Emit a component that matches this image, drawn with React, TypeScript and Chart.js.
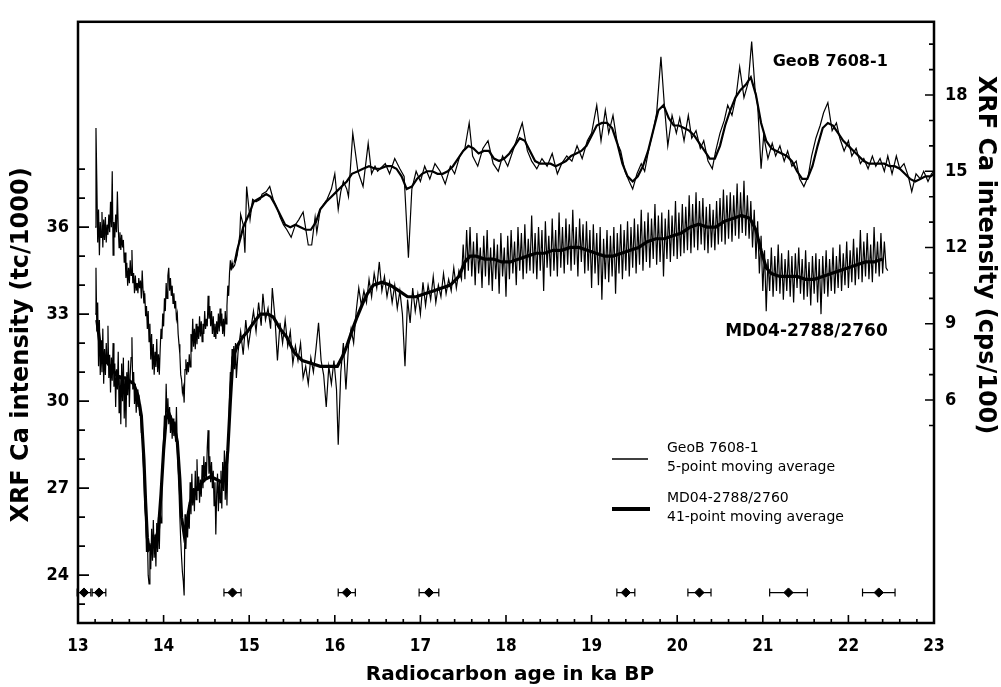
import { useEffect, useRef } from "react";
import { Chart, registerables } from "chart.js";

Chart.register(...registerables);

const FONT = '"DejaVu Sans", Verdana, sans-serif';
const COND = '"DejaVu Sans Condensed", "DejaVu Sans", sans-serif';

// ---- axis tick labels ----
const xTickLabels = [13, 14, 15, 16, 17, 18, 19, 20, 21, 22, 23];
const leftTickLabels = [24, 27, 30, 33, 36];
const rightTickLabels = [6, 9, 12, 15, 18];
const leftMinorRange = [23, 38];
const rightMinorRange = [5, 20];
const xMinorStep = 0.2;

// ---- GeoB 7608-1 raw (age ka, XRF Ca cps/100) ----
const geoRaw: [number, number][] = [
  [13.20, 12.8], [13.21, 16.7], [13.22, 14.6], [13.23, 12.2], [13.24, 13.5], [13.25, 11.7], [13.26, 13.0], [13.27, 12.4],
  [13.28, 13.4], [13.29, 12.0], [13.30, 13.1], [13.31, 12.3], [13.32, 13.2], [13.33, 12.2], [13.34, 12.9], [13.35, 12.5],
  [13.36, 13.3], [13.37, 12.6], [13.38, 13.8], [13.39, 12.8], [13.40, 15.0], [13.41, 11.7], [13.42, 13.0], [13.43, 12.4],
  [13.44, 13.3], [13.45, 12.6], [13.46, 14.2], [13.47, 12.8], [13.48, 12.0], [13.49, 12.6], [13.50, 11.9], [13.51, 12.5],
  [13.52, 12.0], [13.53, 12.3], [13.54, 11.4], [13.55, 11.8], [13.56, 10.8], [13.57, 11.4], [13.58, 10.5], [13.59, 11.2],
  [13.60, 10.6], [13.61, 11.5], [13.62, 10.9], [13.63, 11.9], [13.64, 10.6], [13.65, 11.0], [13.66, 10.2], [13.67, 10.9],
  [13.68, 10.3], [13.69, 10.6], [13.70, 10.2], [13.71, 10.8], [13.72, 10.4], [13.73, 10.7], [13.74, 10.0], [13.75, 11.1],
  [13.76, 10.3], [13.77, 9.8], [13.78, 10.2], [13.79, 9.3], [13.80, 9.7], [13.81, 8.8], [13.82, 9.5], [13.83, 8.3],
  [13.84, 9.0], [13.85, 7.6], [13.86, 8.6], [13.87, 7.2], [13.88, 8.2], [13.89, 7.0], [13.90, 7.9], [13.91, 7.3],
  [13.92, 8.4], [13.93, 7.1], [13.94, 7.8], [13.95, 7.0], [13.96, 8.0], [13.97, 8.8], [13.98, 8.4], [13.99, 9.4],
  [14.00, 8.9], [14.01, 10.0], [14.02, 9.5], [14.03, 10.6], [14.04, 10.0], [14.05, 10.9], [14.06, 11.2], [14.07, 10.3],
  [14.08, 10.8], [14.09, 10.1], [14.10, 10.5], [14.11, 9.8], [14.12, 10.2], [14.13, 9.6], [14.14, 9.9], [14.15, 9.2],
  [14.16, 9.4], [14.17, 8.6], [14.18, 8.2], [14.19, 7.8], [14.20, 7.0], [14.21, 6.8], [14.22, 6.3], [14.23, 6.5],
  [14.24, 5.9], [14.25, 7.2], [14.26, 7.6], [14.27, 7.0], [14.28, 7.5], [14.29, 7.1], [14.30, 7.8], [14.31, 7.3],
  [14.32, 8.6], [14.33, 7.9], [14.34, 9.2], [14.35, 8.1], [14.36, 8.8], [14.37, 8.0], [14.38, 9.0], [14.39, 8.2],
  [14.40, 8.9], [14.41, 8.4], [14.42, 9.3], [14.43, 8.5], [14.44, 9.1], [14.45, 8.3], [14.46, 9.0], [14.47, 8.6],
  [14.48, 9.5], [14.49, 8.8], [14.50, 9.2], [14.51, 8.9], [14.52, 10.1], [14.53, 9.2], [14.54, 9.7], [14.55, 8.9],
  [14.56, 9.5], [14.57, 8.6], [14.58, 9.3], [14.59, 8.5], [14.60, 9.0], [14.61, 8.4], [14.62, 9.1], [14.63, 8.6],
  [14.64, 9.4], [14.65, 8.7], [14.66, 9.6], [14.67, 8.9], [14.68, 9.4], [14.69, 8.6], [14.70, 9.2], [14.71, 8.5],
  [14.72, 9.5], [14.73, 9.0], [14.74, 9.7], [14.75, 10.5], [14.76, 10.1], [14.77, 11.0], [14.78, 11.5], [14.79, 11.1],
  [14.80, 11.4], [14.81, 11.2], [14.83, 11.3], [14.86, 11.7], [14.89, 12.5], [14.90, 13.3], [14.93, 12.9], [14.95, 11.8],
  [14.97, 14.4], [15.01, 13.1], [15.04, 13.9], [15.08, 13.8], [15.13, 13.9], [15.15, 14.1], [15.20, 14.2], [15.24, 14.4],
  [15.28, 13.9], [15.32, 13.6], [15.36, 13.2], [15.40, 12.9], [15.44, 12.7], [15.49, 12.4], [15.54, 12.9], [15.58, 13.1],
  [15.63, 13.4], [15.69, 12.1], [15.73, 12.1], [15.77, 13.2], [15.79, 12.6], [15.83, 13.5], [15.87, 13.7], [15.91, 13.9],
  [15.96, 14.3], [16.00, 14.9], [16.04, 13.5], [16.07, 14.2], [16.10, 14.6], [16.14, 14.3], [16.16, 14.0], [16.21, 16.5],
  [16.27, 15.0], [16.33, 14.4], [16.39, 16.1], [16.43, 14.9], [16.47, 15.2], [16.50, 15.0], [16.59, 15.3], [16.64, 14.9],
  [16.70, 15.5], [16.76, 15.1], [16.81, 14.8], [16.86, 11.6], [16.90, 14.3], [16.95, 15.0], [17.00, 14.6], [17.05, 15.2],
  [17.11, 14.7], [17.17, 15.3], [17.23, 15.0], [17.29, 14.5], [17.35, 15.2], [17.40, 14.9], [17.46, 15.6], [17.52, 15.9],
  [17.57, 16.9], [17.61, 15.6], [17.67, 15.2], [17.73, 15.9], [17.79, 16.2], [17.85, 15.3], [17.91, 15.0], [17.96, 15.6],
  [18.02, 15.2], [18.08, 15.8], [18.14, 16.4], [18.19, 16.9], [18.25, 15.8], [18.30, 15.4], [18.36, 15.1], [18.42, 15.5],
  [18.48, 15.2], [18.54, 15.7], [18.60, 14.9], [18.65, 15.3], [18.71, 15.6], [18.77, 15.4], [18.83, 16.0], [18.89, 15.5],
  [18.95, 16.2], [19.00, 16.5], [19.06, 17.6], [19.11, 16.2], [19.16, 17.4], [19.20, 16.5], [19.25, 17.2], [19.30, 16.1],
  [19.34, 15.8], [19.39, 15.0], [19.44, 14.6], [19.48, 14.3], [19.53, 14.9], [19.58, 15.3], [19.62, 15.0], [19.67, 15.9],
  [19.72, 16.6], [19.76, 17.3], [19.81, 19.5], [19.85, 17.6], [19.89, 16.0], [19.94, 17.2], [19.99, 16.5], [20.03, 17.1],
  [20.08, 16.2], [20.13, 17.2], [20.17, 16.3], [20.22, 16.6], [20.27, 15.9], [20.31, 16.2], [20.36, 15.4], [20.41, 15.1],
  [20.45, 15.8], [20.50, 16.5], [20.55, 17.0], [20.59, 17.6], [20.64, 17.2], [20.69, 18.0], [20.73, 19.1], [20.78, 17.9],
  [20.83, 18.5], [20.87, 20.1], [20.91, 18.2], [20.94, 17.6], [20.98, 15.1], [21.01, 16.4], [21.06, 15.5], [21.11, 16.1],
  [21.15, 15.6], [21.20, 16.0], [21.25, 15.4], [21.29, 15.8], [21.34, 15.2], [21.39, 15.4], [21.43, 14.7], [21.48, 14.4],
  [21.53, 14.8], [21.57, 15.6], [21.62, 16.3], [21.67, 16.8], [21.71, 17.3], [21.76, 17.7], [21.81, 16.6], [21.86, 16.9],
  [21.90, 16.3], [21.95, 15.8], [22.00, 16.2], [22.04, 15.6], [22.09, 15.9], [22.14, 15.3], [22.18, 15.5], [22.23, 15.1],
  [22.28, 15.6], [22.32, 15.2], [22.37, 15.5], [22.42, 15.0], [22.46, 15.6], [22.51, 14.9], [22.56, 15.6], [22.60, 15.1],
  [22.65, 15.3], [22.70, 14.8], [22.74, 14.2], [22.79, 14.9], [22.84, 14.7], [22.88, 15.0], [22.93, 14.6], [22.97, 14.9],
  [23.00, 15.0],
];

// ---- GeoB 7608-1 5-point moving average ----
const geoAvg: [number, number][] = [
  [14.83, 11.4], [14.86, 11.9], [14.90, 12.4], [14.93, 12.8], [14.97, 13.1], [15.01, 13.4], [15.05, 13.8], [15.10, 13.9],
  [15.15, 14.0], [15.20, 14.1], [15.25, 14.0], [15.30, 13.7], [15.36, 13.3], [15.42, 12.9], [15.48, 12.8], [15.54, 12.9],
  [15.60, 12.8], [15.66, 12.7], [15.72, 12.7], [15.78, 13.0], [15.83, 13.5], [15.90, 13.8], [15.96, 14.0], [16.02, 14.2],
  [16.08, 14.4], [16.14, 14.6], [16.20, 14.9], [16.27, 15.0], [16.33, 15.1], [16.40, 15.2], [16.47, 15.1], [16.53, 15.1],
  [16.60, 15.2], [16.66, 15.2], [16.72, 15.1], [16.78, 14.8], [16.84, 14.3], [16.90, 14.4], [16.96, 14.7], [17.02, 14.9],
  [17.08, 15.0], [17.14, 15.0], [17.20, 14.9], [17.26, 14.9], [17.32, 15.0], [17.38, 15.2], [17.44, 15.5], [17.50, 15.8],
  [17.56, 16.0], [17.62, 15.9], [17.68, 15.7], [17.74, 15.8], [17.80, 15.8], [17.86, 15.5], [17.92, 15.4], [17.98, 15.5],
  [18.04, 15.7], [18.10, 16.0], [18.16, 16.3], [18.22, 16.2], [18.28, 15.8], [18.34, 15.4], [18.40, 15.3], [18.46, 15.3],
  [18.52, 15.3], [18.58, 15.2], [18.64, 15.3], [18.70, 15.4], [18.76, 15.6], [18.82, 15.7], [18.88, 15.8], [18.94, 16.0],
  [19.00, 16.4], [19.06, 16.8], [19.12, 16.9], [19.18, 16.9], [19.24, 16.7], [19.30, 16.1], [19.36, 15.3], [19.42, 14.8],
  [19.48, 14.6], [19.54, 14.8], [19.60, 15.2], [19.66, 15.8], [19.72, 16.6], [19.78, 17.4], [19.84, 17.6], [19.90, 17.1],
  [19.96, 16.8], [20.02, 16.8], [20.08, 16.7], [20.14, 16.6], [20.20, 16.4], [20.26, 16.1], [20.32, 15.8], [20.38, 15.5],
  [20.44, 15.5], [20.50, 16.0], [20.56, 16.8], [20.62, 17.4], [20.68, 17.9], [20.74, 18.2], [20.80, 18.4], [20.86, 18.7],
  [20.92, 18.0], [20.98, 16.9], [21.04, 16.2], [21.10, 15.9], [21.16, 15.8], [21.22, 15.7], [21.28, 15.6], [21.34, 15.4],
  [21.40, 15.0], [21.46, 14.7], [21.52, 14.7], [21.58, 15.2], [21.64, 16.0], [21.70, 16.7], [21.76, 16.9], [21.82, 16.8],
  [21.88, 16.5], [21.94, 16.2], [22.00, 16.0], [22.06, 15.8], [22.12, 15.6], [22.18, 15.4], [22.24, 15.3], [22.30, 15.3],
  [22.36, 15.3], [22.42, 15.3], [22.48, 15.2], [22.54, 15.2], [22.60, 15.1], [22.66, 14.9], [22.72, 14.7], [22.78, 14.6],
  [22.84, 14.7], [22.90, 14.8], [22.96, 14.8], [23.00, 14.9],
];

// ---- MD04-2788/2760 raw (age ka, XRF Ca tc/1000) ----
const mdRaw: [number, number][] = [
  [13.20, 33.0], [13.21, 34.6], [13.22, 32.4], [13.23, 33.4], [13.24, 31.2], [13.25, 32.8], [13.26, 30.9], [13.27, 32.1],
  [13.28, 31.0], [13.29, 32.5], [13.30, 30.6], [13.31, 31.8], [13.32, 30.9], [13.33, 32.0], [13.34, 31.3], [13.35, 32.6],
  [13.36, 30.8], [13.37, 31.6], [13.38, 30.3], [13.39, 31.5], [13.40, 30.7], [13.41, 32.0], [13.42, 30.5], [13.43, 31.3],
  [13.44, 29.8], [13.45, 31.1], [13.46, 30.4], [13.47, 31.7], [13.48, 29.6], [13.49, 30.9], [13.50, 29.2], [13.51, 31.3],
  [13.52, 30.0], [13.53, 31.5], [13.54, 29.4], [13.55, 30.8], [13.56, 29.1], [13.57, 31.0], [13.58, 30.2], [13.59, 31.4],
  [13.60, 29.8], [13.61, 30.9], [13.62, 31.5], [13.63, 32.2], [13.64, 30.4], [13.65, 31.0], [13.66, 29.9], [13.67, 30.6],
  [13.68, 29.6], [13.69, 30.4], [13.70, 29.8], [13.71, 30.2], [13.72, 29.5], [13.73, 29.9], [13.74, 28.9], [13.75, 29.3],
  [13.76, 28.0], [13.77, 27.5], [13.78, 26.4], [13.79, 26.0], [13.80, 24.8], [13.81, 25.4], [13.82, 24.0], [13.83, 23.7],
  [13.84, 25.1], [13.85, 24.2], [13.86, 25.6], [13.87, 24.5], [13.88, 25.9], [13.89, 24.6], [13.90, 25.4], [13.91, 24.3],
  [13.92, 25.8], [13.93, 24.8], [13.94, 26.0], [13.95, 24.9], [13.96, 26.2], [13.97, 25.8], [13.98, 27.4], [13.99, 28.0],
  [14.00, 28.7], [14.01, 29.5], [14.02, 29.1], [14.03, 30.6], [14.04, 29.4], [14.05, 30.1], [14.06, 29.2], [14.07, 29.8],
  [14.08, 28.9], [14.09, 29.5], [14.10, 28.7], [14.11, 29.4], [14.12, 28.8], [14.13, 29.3], [14.14, 28.6], [14.15, 29.8],
  [14.16, 28.4], [14.17, 27.6], [14.18, 26.9], [14.19, 26.0], [14.20, 25.2], [14.21, 24.6], [14.22, 24.1], [14.23, 23.8],
  [14.24, 23.3], [14.25, 26.1], [14.26, 24.9], [14.27, 25.8], [14.28, 25.3], [14.29, 26.2], [14.30, 25.6], [14.31, 27.2],
  [14.32, 26.1], [14.33, 27.5], [14.34, 26.4], [14.35, 27.0], [14.36, 26.2], [14.37, 27.6], [14.38, 26.6], [14.39, 28.0],
  [14.40, 26.9], [14.41, 27.4], [14.42, 26.5], [14.43, 27.3], [14.44, 26.7], [14.45, 27.8], [14.46, 27.0], [14.47, 28.1],
  [14.48, 27.2], [14.49, 27.9], [14.50, 27.3], [14.51, 28.4], [14.52, 29.0], [14.53, 27.5], [14.54, 28.1], [14.55, 27.2],
  [14.56, 27.9], [14.57, 27.0], [14.58, 27.6], [14.59, 26.4], [14.60, 27.2], [14.61, 25.4], [14.62, 26.8], [14.63, 27.5],
  [14.64, 26.2], [14.65, 27.3], [14.66, 26.5], [14.67, 27.6], [14.68, 26.3], [14.69, 27.9], [14.70, 26.9], [14.71, 28.3],
  [14.72, 26.6], [14.73, 27.7], [14.74, 26.4], [14.75, 27.8], [14.76, 28.9], [14.77, 30.2], [14.78, 31.0], [14.79, 30.4],
  [14.80, 31.8], [14.81, 31.2], [14.82, 31.9], [14.83, 31.1], [14.84, 32.0], [14.85, 30.8], [14.87, 31.7], [14.90, 32.4],
  [14.93, 31.6], [14.96, 32.8], [14.99, 31.9], [15.02, 32.5], [15.05, 33.1], [15.08, 32.4], [15.11, 33.4], [15.14, 32.6],
  [15.16, 33.7], [15.19, 32.8], [15.22, 33.2], [15.25, 32.5], [15.27, 33.9], [15.30, 32.9], [15.33, 31.4], [15.36, 32.7],
  [15.39, 32.0], [15.42, 32.8], [15.45, 31.9], [15.48, 32.4], [15.51, 31.3], [15.54, 31.9], [15.57, 31.4], [15.60, 32.0],
  [15.63, 30.8], [15.66, 31.2], [15.69, 30.6], [15.72, 31.5], [15.75, 31.0], [15.78, 31.8], [15.81, 32.7], [15.84, 31.4],
  [15.87, 30.9], [15.90, 29.8], [15.93, 31.2], [15.96, 30.6], [15.99, 31.4], [16.02, 30.4], [16.04, 28.5], [16.07, 31.0],
  [16.10, 32.0], [16.13, 30.4], [16.16, 31.9], [16.19, 32.5], [16.22, 32.0], [16.25, 33.1], [16.28, 33.9], [16.31, 33.3],
  [16.34, 33.8], [16.37, 33.4], [16.40, 34.2], [16.43, 33.6], [16.46, 34.4], [16.49, 33.9], [16.52, 34.8], [16.55, 33.8],
  [16.58, 34.3], [16.61, 33.6], [16.64, 34.1], [16.67, 33.4], [16.70, 34.0], [16.73, 33.2], [16.76, 33.8], [16.79, 33.0],
  [16.82, 31.2], [16.85, 33.5], [16.88, 32.7], [16.91, 33.9], [16.94, 33.1], [16.97, 33.7], [17.00, 33.0], [17.03, 34.1],
  [17.06, 33.3], [17.09, 34.0], [17.12, 33.5], [17.15, 34.3], [17.18, 33.4], [17.21, 34.0], [17.24, 33.6], [17.27, 34.4],
  [17.30, 33.7], [17.33, 34.2], [17.36, 33.8], [17.39, 34.6], [17.42, 33.9], [17.45, 34.5], [17.48, 34.2], [17.50, 35.4],
  [17.52, 34.2], [17.54, 35.9], [17.56, 34.5], [17.58, 36.0], [17.60, 34.3], [17.62, 35.5], [17.64, 34.0], [17.66, 35.8],
  [17.68, 34.4], [17.70, 35.3], [17.72, 33.9], [17.74, 35.7], [17.76, 34.3], [17.78, 35.9], [17.80, 34.0], [17.82, 35.3],
  [17.84, 33.8], [17.86, 35.6], [17.88, 34.2], [17.90, 35.4], [17.92, 33.7], [17.94, 35.8], [17.96, 34.3], [17.98, 35.3],
  [18.00, 33.6], [18.02, 35.7], [18.04, 34.2], [18.06, 35.9], [18.08, 34.4], [18.10, 35.5], [18.12, 34.0], [18.14, 36.0],
  [18.16, 34.5], [18.18, 35.8], [18.20, 34.2], [18.22, 36.1], [18.24, 34.4], [18.26, 35.6], [18.28, 34.5], [18.30, 36.4],
  [18.32, 34.4], [18.34, 35.8], [18.36, 34.2], [18.38, 36.0], [18.40, 34.5], [18.42, 35.9], [18.44, 33.8], [18.46, 36.2],
  [18.48, 34.6], [18.50, 35.7], [18.52, 34.3], [18.54, 36.3], [18.56, 34.5], [18.58, 35.9], [18.60, 34.3], [18.62, 36.5],
  [18.64, 34.6], [18.66, 36.0], [18.68, 34.4], [18.70, 36.3], [18.72, 34.7], [18.74, 36.1], [18.76, 34.5], [18.78, 36.6],
  [18.80, 34.7], [18.82, 36.0], [18.84, 34.3], [18.86, 36.3], [18.88, 34.8], [18.90, 36.1], [18.92, 34.4], [18.94, 36.2],
  [18.96, 34.5], [18.98, 35.9], [19.00, 33.9], [19.02, 36.1], [19.04, 34.4], [19.06, 35.8], [19.08, 34.0], [19.10, 36.0],
  [19.12, 33.5], [19.14, 35.6], [19.16, 34.2], [19.18, 35.9], [19.20, 34.1], [19.22, 35.7], [19.24, 34.3], [19.26, 36.0],
  [19.28, 33.7], [19.30, 35.8], [19.32, 34.4], [19.34, 36.1], [19.36, 34.2], [19.38, 35.9], [19.40, 34.5], [19.42, 36.2],
  [19.44, 34.3], [19.46, 36.0], [19.48, 34.6], [19.50, 36.3], [19.52, 34.4], [19.54, 36.1], [19.56, 34.7], [19.58, 36.6],
  [19.60, 34.5], [19.62, 36.2], [19.64, 34.8], [19.66, 36.5], [19.68, 34.6], [19.70, 36.3], [19.72, 34.9], [19.74, 36.8],
  [19.76, 34.7], [19.78, 36.4], [19.80, 34.8], [19.82, 36.5], [19.84, 34.3], [19.86, 36.3], [19.88, 34.9], [19.90, 36.6],
  [19.92, 34.8], [19.94, 36.4], [19.96, 35.0], [19.98, 36.9], [20.00, 34.9], [20.02, 36.5], [20.04, 35.0], [20.06, 36.8],
  [20.08, 35.1], [20.10, 36.7], [20.12, 35.2], [20.14, 37.1], [20.16, 35.1], [20.18, 36.8], [20.20, 35.3], [20.22, 37.2],
  [20.24, 35.2], [20.26, 36.9], [20.28, 35.4], [20.30, 37.0], [20.32, 35.2], [20.34, 36.7], [20.36, 35.1], [20.38, 36.8],
  [20.40, 35.3], [20.42, 36.6], [20.44, 35.2], [20.46, 36.9], [20.48, 35.4], [20.50, 37.0], [20.52, 35.5], [20.54, 37.3],
  [20.56, 35.4], [20.58, 37.1], [20.60, 35.6], [20.62, 37.2], [20.64, 35.5], [20.66, 37.1], [20.68, 35.7], [20.70, 37.5],
  [20.72, 35.6], [20.74, 37.2], [20.76, 35.8], [20.78, 37.6], [20.80, 35.7], [20.82, 37.1], [20.84, 35.6], [20.86, 36.9],
  [20.88, 35.3], [20.90, 36.6], [20.92, 34.9], [20.94, 36.2], [20.96, 34.4], [20.98, 35.7], [21.00, 33.8], [21.02, 35.2],
  [21.04, 33.1], [21.06, 34.9], [21.08, 33.8], [21.10, 35.3], [21.12, 33.6], [21.14, 35.0], [21.16, 33.8], [21.18, 35.4],
  [21.20, 33.7], [21.22, 35.1], [21.24, 33.5], [21.26, 34.9], [21.28, 33.8], [21.30, 35.2], [21.32, 33.6], [21.34, 35.0],
  [21.36, 33.4], [21.38, 35.1], [21.40, 33.9], [21.42, 35.3], [21.44, 33.7], [21.46, 34.9], [21.48, 33.5], [21.50, 35.2],
  [21.52, 33.6], [21.54, 34.8], [21.56, 33.3], [21.58, 35.0], [21.60, 33.7], [21.62, 35.1], [21.64, 33.4], [21.66, 34.9],
  [21.68, 33.0], [21.70, 35.0], [21.72, 33.7], [21.74, 35.2], [21.76, 33.6], [21.78, 34.9], [21.80, 33.8], [21.82, 35.3],
  [21.84, 33.7], [21.86, 35.0], [21.88, 33.9], [21.90, 35.4], [21.92, 33.8], [21.94, 35.1], [21.96, 34.0], [21.98, 35.5],
  [22.00, 33.9], [22.02, 35.2], [22.04, 34.1], [22.06, 35.6], [22.08, 34.0], [22.10, 35.3], [22.12, 34.2], [22.14, 35.9],
  [22.16, 34.1], [22.18, 35.5], [22.20, 34.3], [22.22, 35.8], [22.24, 34.2], [22.26, 35.4], [22.28, 34.1], [22.30, 36.0],
  [22.32, 34.4], [22.34, 35.5], [22.36, 34.3], [22.38, 35.8], [22.40, 34.4], [22.42, 35.5], [22.44, 34.6], [22.46, 34.5],
];

// ---- MD04-2788/2760 41-point moving average ----
const mdAvg: [number, number][] = [
  [13.22, 32.8], [13.26, 31.9], [13.30, 31.5], [13.35, 31.3], [13.40, 31.1], [13.45, 30.9], [13.50, 30.8], [13.55, 30.8],
  [13.60, 30.7], [13.65, 30.6], [13.70, 30.2], [13.74, 29.5], [13.77, 28.0], [13.79, 26.5], [13.81, 25.3], [13.83, 24.9],
  [13.86, 25.0], [13.90, 25.1], [13.94, 25.6], [13.97, 26.8], [14.00, 28.3], [14.03, 29.4], [14.06, 29.6], [14.10, 29.3],
  [14.14, 28.9], [14.16, 28.6], [14.19, 27.3], [14.21, 26.0], [14.24, 25.4], [14.27, 25.8], [14.31, 26.5], [14.36, 26.9],
  [14.42, 27.1], [14.48, 27.3], [14.55, 27.4], [14.62, 27.3], [14.68, 27.2], [14.72, 27.4], [14.75, 28.3], [14.78, 30.0],
  [14.81, 31.5], [14.86, 31.9], [14.92, 32.2], [14.98, 32.4], [15.05, 32.7], [15.13, 33.0], [15.22, 33.0], [15.28, 32.9],
  [15.36, 32.5], [15.44, 32.2], [15.52, 31.7], [15.62, 31.4], [15.73, 31.3], [15.83, 31.2], [15.93, 31.2], [16.03, 31.2],
  [16.10, 31.6], [16.14, 31.9], [16.21, 32.5], [16.26, 32.9], [16.33, 33.4], [16.38, 33.7], [16.45, 34.0], [16.55, 34.1],
  [16.65, 34.0], [16.75, 33.8], [16.85, 33.6], [16.95, 33.6], [17.05, 33.7], [17.15, 33.8], [17.25, 33.9], [17.35, 34.0],
  [17.45, 34.3], [17.52, 34.8], [17.58, 35.0], [17.65, 35.0], [17.75, 34.9], [17.85, 34.9], [17.95, 34.8], [18.05, 34.8],
  [18.15, 34.9], [18.25, 35.0], [18.35, 35.1], [18.45, 35.1], [18.55, 35.2], [18.65, 35.2], [18.75, 35.3], [18.85, 35.3],
  [18.95, 35.2], [19.05, 35.1], [19.15, 35.0], [19.25, 35.0], [19.35, 35.1], [19.45, 35.2], [19.55, 35.3], [19.65, 35.5],
  [19.75, 35.6], [19.85, 35.6], [19.95, 35.7], [20.05, 35.8], [20.15, 36.0], [20.25, 36.1], [20.35, 36.0], [20.45, 36.0],
  [20.55, 36.2], [20.65, 36.3], [20.75, 36.4], [20.85, 36.3], [20.92, 35.9], [20.98, 35.2], [21.04, 34.6], [21.10, 34.4],
  [21.20, 34.3], [21.30, 34.3], [21.40, 34.3], [21.50, 34.2], [21.60, 34.2], [21.70, 34.3], [21.80, 34.4], [21.90, 34.5],
  [22.00, 34.6], [22.10, 34.7], [22.20, 34.8], [22.30, 34.8], [22.40, 34.9],
];

// ---- radiocarbon dates (age, 1-sigma error) ----
const dateAges = [13.07, 13.245, 14.805, 16.14, 17.10, 19.40, 20.26, 21.30, 22.355];
const dateErrs = [0.08, 0.08, 0.10, 0.10, 0.115, 0.105, 0.135, 0.22, 0.19];
const dateLevel = 23.4;

const toXY = (arr: [number, number][]) => arr.map(([x, y]) => ({ x, y }));

const isInt = (v: number) => Math.abs(v - Math.round(v)) < 1e-6;

const decorPlugin = {
  id: "decor",
  afterDraw(chart: any) {
    const { ctx, chartArea: a, scales } = chart;
    const sx = scales.x, yl = scales.y, yr = scales.y2;
    ctx.save();
    ctx.strokeStyle = "#000";
    ctx.fillStyle = "#000";

    // error bars for dates
    ctx.lineWidth = 1.2;
    const yy = yl.getPixelForValue(dateLevel);
    dateAges.forEach((age, i) => {
      const x0 = sx.getPixelForValue(age - dateErrs[i]);
      const x1 = sx.getPixelForValue(age + dateErrs[i]);
      ctx.beginPath();
      ctx.moveTo(x0, yy); ctx.lineTo(x1, yy);
      ctx.moveTo(x0, yy - 4); ctx.lineTo(x0, yy + 4);
      ctx.moveTo(x1, yy - 4); ctx.lineTo(x1, yy + 4);
      ctx.stroke();
    });

    // frame
    ctx.lineWidth = 2.5;
    ctx.strokeRect(a.left, a.top, a.right - a.left, a.bottom - a.top);

    // inward ticks
    ctx.lineWidth = 1.6;
    ctx.beginPath();
    for (let v = leftMinorRange[0]; v <= leftMinorRange[1]; v++) {
      const p = yl.getPixelForValue(v);
      const len = leftTickLabels.includes(v) ? 11 : 7;
      ctx.moveTo(a.left, p); ctx.lineTo(a.left + len, p);
    }
    for (let v = rightMinorRange[0]; v <= rightMinorRange[1]; v++) {
      const p = yr.getPixelForValue(v);
      const len = rightTickLabels.includes(v) ? 9 : 5;
      ctx.moveTo(a.right, p); ctx.lineTo(a.right - len, p);
    }
    const n = Math.round((xTickLabels[xTickLabels.length - 1] - xTickLabels[0]) / xMinorStep);
    for (let i = 0; i <= n; i++) {
      const v = xTickLabels[0] + i * xMinorStep;
      const p = sx.getPixelForValue(v);
      const len = isInt(v) ? 8 : 4;
      ctx.moveTo(p, a.bottom); ctx.lineTo(p, a.bottom - len);
    }
    ctx.stroke();

    // axis titles
    ctx.font = `bold 24px ${FONT}`;
    ctx.textAlign = "center";
    ctx.textBaseline = "middle";
    ctx.save();
    ctx.translate(22, 345);
    ctx.rotate(-Math.PI / 2);
    ctx.fillText("XRF Ca intensity (tc/1000)", 0, 0);
    ctx.restore();
    ctx.save();
    ctx.translate(985, 255);
    ctx.rotate(Math.PI / 2);
    ctx.fillText("XRF Ca intensity (cps/100)", 0, 0);
    ctx.restore();
    ctx.font = `bold 20px ${FONT}`;
    ctx.fillText("Radiocarbon age in ka BP", 510, 675);

    // series labels
    ctx.font = `bold 16px ${FONT}`;
    ctx.textAlign = "right";
    ctx.fillText("GeoB 7608-1", sx.getPixelForValue(22.46), yr.getPixelForValue(19.3));
    ctx.font = `bold 17px ${FONT}`;
    ctx.fillText("MD04-2788/2760", sx.getPixelForValue(22.46), yl.getPixelForValue(32.4));

    // legend
    const lx = a.left + 534;
    ctx.lineWidth = 1.5;
    ctx.beginPath(); ctx.moveTo(lx, 459); ctx.lineTo(lx + 36, 459); ctx.stroke();
    ctx.lineWidth = 4;
    ctx.beginPath(); ctx.moveTo(lx, 509); ctx.lineTo(lx + 38, 509); ctx.stroke();
    ctx.font = `14px ${FONT}`;
    ctx.textAlign = "left";
    ctx.fillText("GeoB 7608-1", lx + 55, 448);
    ctx.fillText("5-point moving average", lx + 55, 467);
    ctx.fillText("MD04-2788/2760", lx + 55, 498);
    ctx.fillText("41-point moving average", lx + 55, 517);
    ctx.restore();
  },
};

export default function App() {
  const ref = useRef<HTMLCanvasElement | null>(null);
  useEffect(() => {
    if (!ref.current) return;
    const chart = new Chart(ref.current, {
      type: "line",
      data: {
        datasets: [
          { label: "GeoB raw", data: toXY(geoRaw), yAxisID: "y2", borderColor: "#000", borderWidth: 1.2, pointRadius: 0, tension: 0 },
          { label: "GeoB 5-pt", data: toXY(geoAvg), yAxisID: "y2", borderColor: "#000", borderWidth: 2.2, pointRadius: 0, tension: 0 },
          { label: "MD raw", data: toXY(mdRaw), yAxisID: "y", borderColor: "#000", borderWidth: 1.2, pointRadius: 0, tension: 0 },
          { label: "MD 41-pt", data: toXY(mdAvg), yAxisID: "y", borderColor: "#000", borderWidth: 3.2, pointRadius: 0, tension: 0 },
          {
            label: "dates",
            data: dateAges.map((x) => ({ x, y: dateLevel })),
            yAxisID: "y",
            showLine: false,
            pointStyle: "rectRot",
            pointRadius: 4.6,
            pointBackgroundColor: "#000",
            pointBorderColor: "#000",
          },
        ],
      },
      options: {
        animation: false,
        responsive: false,
        events: [],
        layout: { padding: { top: 8, left: 0, right: 0, bottom: 0 } },
        plugins: { legend: { display: false }, tooltip: { enabled: false } },
        scales: {
          x: {
            type: "linear",
            position: "bottom",
            min: 13,
            max: 23,
            grid: { display: false, drawTicks: false },
            border: { display: false },
            afterBuildTicks: (s: any) => { s.ticks = xTickLabels.map((v) => ({ value: v })); },
            afterFit: (s: any) => { s.height = 64; },
            ticks: {
              autoSkip: false,
              maxRotation: 0,
              padding: 13,
              color: "#000",
              font: { family: COND, size: 17, weight: "bold" },
              callback: (v: any) => String(v),
            },
          },
          y: {
            type: "linear",
            position: "left",
            min: 22.35,
            max: 43.08,
            grid: { display: false, drawTicks: false },
            border: { display: false },
            afterBuildTicks: (s: any) => { s.ticks = leftTickLabels.map((v) => ({ value: v })); },
            afterFit: (s: any) => { s.width = 78; },
            ticks: {
              autoSkip: false,
              padding: 9,
              color: "#000",
              font: { family: COND, size: 18, weight: "bold" },
              callback: (v: any) => String(v),
            },
          },
          y2: {
            type: "linear",
            position: "right",
            min: -2.77,
            max: 20.88,
            grid: { display: false, drawTicks: false },
            border: { display: false },
            afterBuildTicks: (s: any) => { s.ticks = rightTickLabels.map((v) => ({ value: v })); },
            afterFit: (s: any) => { s.width = 67; },
            ticks: {
              autoSkip: false,
              padding: 11,
              color: "#000",
              font: { family: COND, size: 18, weight: "bold" },
              callback: (v: any) => String(v),
            },
          },
        },
      },
      plugins: [decorPlugin],
    } as any);
    return () => chart.destroy();
  }, []);
  return (
    <div style={{ position: "absolute", left: 0, top: 0, width: 1001, height: 687, background: "#fff" }}>
      <canvas ref={ref} width={1001} height={687} />
    </div>
  );
}
